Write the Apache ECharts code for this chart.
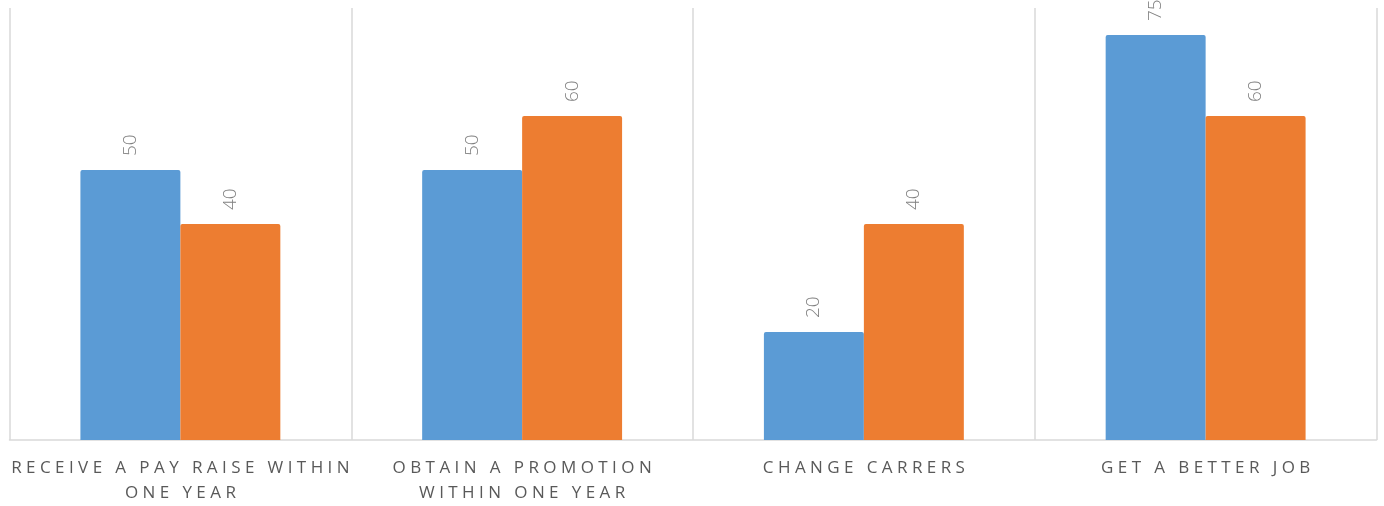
<!DOCTYPE html>
<html>
<head>
<meta charset="utf-8">
<script src="https://cdn.jsdelivr.net/npm/echarts@6/dist/echarts.min.js"></script>
<style>html,body{margin:0;padding:0;background:#fff;}#c{width:1384px;height:506px;}</style>
</head>
<body>
<div id="c"></div>
<script>
var categories = ["RECEIVE A PAY RAISE WITHIN\nONE YEAR", "OBTAIN A PROMOTION\nWITHIN ONE YEAR", "CHANGE CARRERS", "GET A BETTER JOB"];
var seriesA = [50, 50, 20, 75];
var seriesB = [40, 60, 40, 60];

function spaced(s) {
  return s.split("\n").map(function (line) {
    return line.split(" ").map(function (w) { return w.split("").join(" "); }).join("   ");
  }).join("\n");
}

var chart = echarts.init(document.getElementById("c"));
var labelStyle = {
  show: true, position: "top", rotate: 90, align: "left", verticalAlign: "middle",
  distance: 14, color: "#808080", fontSize: 19, fontFamily: "Open Sans", fontWeight: 300
};
chart.setOption({
  animation: false,
  grid: { left: 9.5, right: 7.5, top: 8, bottom: 65.5 },
  xAxis: {
    type: "category", data: categories,
    axisLine: { lineStyle: { color: "#d9d9d9", width: 1.5 } },
    axisTick: { show: false },
    splitLine: { show: true, interval: 0, lineStyle: { color: "#d9d9d9", width: 1.5 } },
    axisLabel: {
      interval: 0,
      formatter: function (v) { return spaced(v); },
      color: "#595959", fontSize: 17, fontFamily: "Open Sans", lineHeight: 25.5, margin: 15
    }
  },
  yAxis: { type: "value", min: 0, max: 80, show: false, splitLine: { show: false } },
  series: [
    { type: "bar", data: seriesA, barGap: "0%", barCategoryGap: "41.5%",
      itemStyle: { color: "#5B9BD5", borderRadius: [2, 2, 0, 0] }, label: labelStyle },
    { type: "bar", data: seriesB, barGap: "0%", barCategoryGap: "41.5%",
      itemStyle: { color: "#ED7D31", borderRadius: [2, 2, 0, 0] }, label: labelStyle }
  ]
});
</script>
</body>
</html>
